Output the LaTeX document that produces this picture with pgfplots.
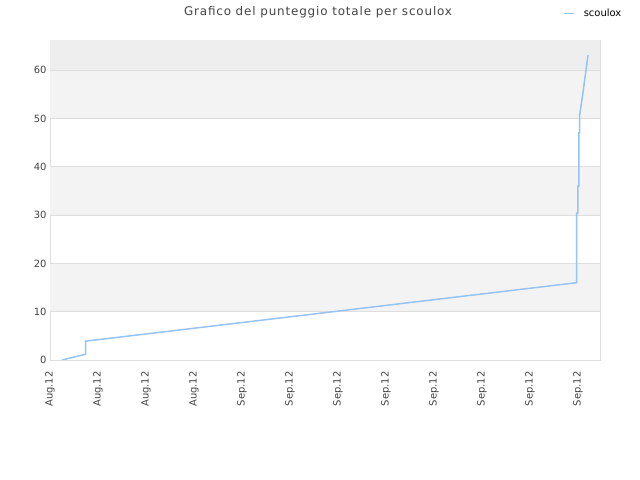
\documentclass[border=0pt]{standalone}
\usepackage{pgfplots}
\pgfplotsset{compat=1.18}
\usepackage{fontspec}
\setmainfont{DejaVu Sans}
\newfontfamily\titlefont[LetterSpace=7]{DejaVu Sans}
\definecolor{linec}{RGB}{150,196,242}
\definecolor{bandc}{RGB}{243,243,243}
\definecolor{topc}{RGB}{238,238,238}
\definecolor{gridc}{RGB}{222,222,222}
\definecolor{txtc}{RGB}{68,68,68}
\begin{document}
\begin{tikzpicture}[x=1bp,y=1bp]
\path[use as bounding box,fill=white] (0,0) rectangle (640,480);
\node[text=txtc,font=\titlefont\fontsize{12}{14}\selectfont] at (318,468) {Grafico del punteggio totale per scoulox};
\begin{axis}[
  at={(50bp,120bp)}, anchor=south west,
  scale only axis, width=550bp, height=320bp,
  xmin=0, xmax=11.46, ymin=0, ymax=66.25,
  axis line style={draw=gridc},
  major tick length=0pt,
  xtick={0,...,11},
  xticklabels={Aug.12,Aug.12,Aug.12,Aug.12,Sep.12,Sep.12,Sep.12,Sep.12,Sep.12,Sep.12,Sep.12,Sep.12},
  x tick label style={rotate=90,anchor=east,font=\fontsize{10}{12}\selectfont,text=txtc},
  xticklabel shift=8bp,
  ytick={0,10,...,60},
  y tick label style={font=\fontsize{10}{12}\selectfont,text=txtc},
  /pgf/number format/assume math mode=true,
  legend style={at={(0.927,1.11)},anchor=north west,draw=none,fill=none,
    font=\fontsize{10}{12}\selectfont},
  legend image code/.code={\draw[#1,line width=1.5bp] (0bp,0bp) -- (10bp,0bp); \path[draw=none] (0bp,0bp) -- (18bp,0bp);},
]
\fill[bandc] (axis cs:0,10) rectangle (axis cs:11.46,20);
\fill[bandc] (axis cs:0,30) rectangle (axis cs:11.46,40);
\fill[bandc] (axis cs:0,50) rectangle (axis cs:11.46,60);
\fill[topc] (axis cs:0,60) rectangle (axis cs:11.46,66.25);
\foreach \v in {10,20,...,60} {
  \edef\tmp{\noexpand\draw[gridc,line width=0.8bp] (axis cs:0,\v) -- (axis cs:11.46,\v);}
  \tmp
}
\addplot[linec,line width=1.5bp,forget plot] coordinates {
(0.256,0) (0.74,1.2) (0.74,3.9) (10.973,16.0) (10.973,30.4) (11.0,30.4)
(11.0,36) (11.02,36) (11.02,47) (11.035,47) (11.035,50.7) (11.1,55) (11.21,63.1)
};
\addlegendimage{linec}
\addlegendentry{scoulox}
\end{axis}
\end{tikzpicture}
\end{document}
